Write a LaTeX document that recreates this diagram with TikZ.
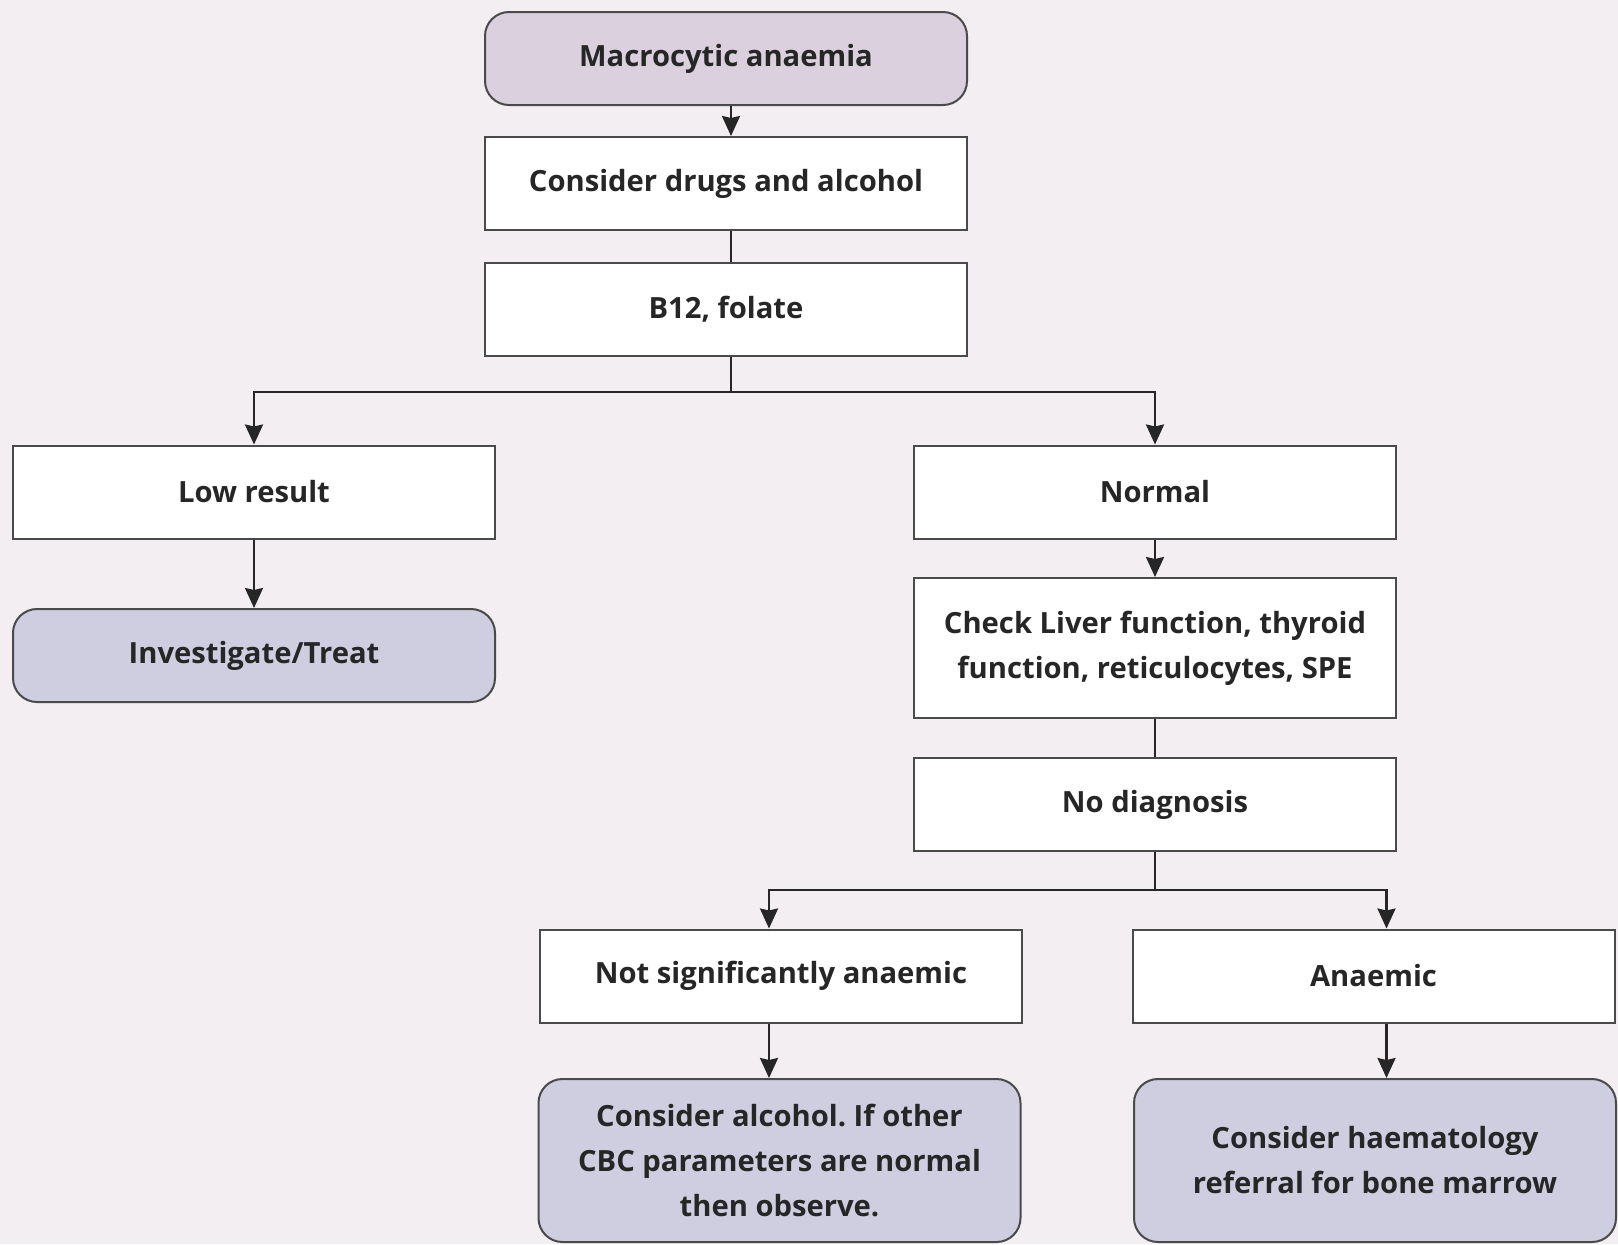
\documentclass[tikz,border=0pt]{standalone}
\usepackage{fontspec}
\setmainfont{Open Sans}
\usetikzlibrary{positioning,arrows.meta,calc}
\definecolor{bgcol}{HTML}{F2EEF2}
\definecolor{topcol}{HTML}{DBD0DE}
\definecolor{endcol}{HTML}{CECEE0}
\definecolor{linecol}{HTML}{4A4A4A}
\frenchspacing

\begin{document}
\begin{tikzpicture}[
  x=0.5pt, y=-0.5pt,
  font=\fontsize{14.6}{22.5}\selectfont\bfseries,
  stepbox/.style={draw=linecol, line width=1pt, fill=white, align=center,
                  minimum width=241pt, minimum height=46.5pt, inner sep=2pt,
                  text=black!85},
  tallbox/.style={stepbox, minimum height=70pt},
  startbox/.style={stepbox, fill=topcol, rounded corners=12pt},
  endbox/.style={stepbox, fill=endcol, rounded corners=12pt},
  lowbox/.style={endbox, minimum height=81.5pt},
  arr/.style={-{Stealth[length=10pt, width=9pt, inset=1pt]}, line width=1.2pt, black!85},
  link/.style={line width=1.2pt, black!85}
]
% ----- page and background -----
\fill[bgcol] (0,0) rectangle (1618,1244);
\useasboundingbox (0,0) rectangle (1618,1244);
% ----- main column -----
\node[startbox] (mac)    at (726,58.5)  {Macrocytic anaemia};
\node[stepbox]  (drugs)  at (726,183.5) {Consider drugs and alcohol};
\node[stepbox]  (b12)    at (726,309)   {B12, folate};
% ----- left branch -----
\node[stepbox]  (low)    at (254,492)   {Low result};
\node[endbox]   (treat)  at (254,655.5) {Investigate/Treat};
% ----- right branch -----
\node[stepbox]  (normal) at (1155,492)  {Normal};
\node[tallbox]  (check)  at (1155,648)
  {Check Liver function, thyroid\\function, reticulocytes, SPE};
\node[stepbox]  (nodiag) at (1155,804.5) {No diagnosis};
\node[stepbox]  (notsig) at (781,976)   {Not significantly anaemic};
\node[stepbox]  (anaem)  at (1373.5,976) {Anaemic};
\node[lowbox]   (obs)    at (779.5,1160.5)
  {Consider alcohol. If other\\CBC parameters are normal\\then observe.};
\node[lowbox]   (haem)   at (1375,1160.5)
  {Consider haematology\\referral for bone marrow};
% ----- junctions -----
\coordinate (j1) at (731,392);
\coordinate (j2) at (1155,890);
% ----- connections -----
\draw[arr]  ([xshift=2.5pt]mac.south) -- ([xshift=2.5pt]drugs.north);
\draw[link] ([xshift=2.5pt]drugs.south) -- ([xshift=2.5pt]b12.north);
\draw[link] ([xshift=2.5pt]b12.south) -- (j1);
\draw[arr]  (j1) -| (low.north);
\draw[arr]  (j1) -| (normal.north);
\draw[arr]  (low) -- (treat);
\draw[arr]  (normal) -- (check);
\draw[link] (check) -- (nodiag);
\draw[link] (nodiag.south) -- (j2);
\draw[arr]  (j2) -| ([xshift=-6pt]notsig.north);
\draw[arr]  (j2) -| ([xshift=6.5pt]anaem.north);
\draw[arr]  ([xshift=-6pt]notsig.south) -- ([xshift=-6pt]notsig.south |- obs.north);
\draw[arr]  ([xshift=6.5pt]anaem.south) -- ([xshift=6.5pt]anaem.south |- haem.north);
\end{tikzpicture}
\end{document}
